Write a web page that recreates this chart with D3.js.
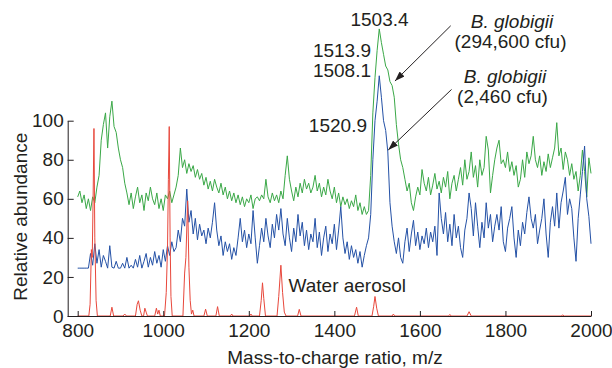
<!DOCTYPE html>
<html><head><meta charset="utf-8">
<script src="https://cdn.jsdelivr.net/npm/d3@7"></script>
<style>
body{margin:0;background:#fff}
svg{display:block}
text{font-family:"Liberation Sans",Arial,Helvetica,sans-serif;fill:#231f20}
</style>
</head><body>
<svg id="c" width="612" height="368"></svg>
<script>
// ---------- data ----------
const mzStart = 800, mzStep = 5;   // spectra sampled every 5 m/z from 800 to 2000

// B. globigii (294,600 cfu) – green trace
const greenVals = [
 61,64,58,62,55,60,54,61,58,66,72,90,98,104,86,102,110,97,94,86,
 80,76,68,63,57,63,55,61,66,58,62,54,63,59,66,60,57,63,55,60,
 54,62,60,64,58,62,66,72,86,76,80,73,78,74,77,71,75,70,73,67,
 71,65,69,64,70,66,63,68,62,66,60,64,59,63,58,62,57,61,56,60,
 58,62,55,60,61,59,62,60,70,61,58,63,59,62,58,64,60,72,82,70,
 64,59,66,61,68,63,70,65,68,63,66,72,64,68,61,66,62,70,64,60,
 66,58,63,56,61,57,60,55,59,56,62,54,58,52,56,52,54,72,104,122,
 136,147,140,134,128,126,120,118,112,98,88,80,76,70,64,68,58,54,61,66,
 62,75,68,64,71,62,67,73,65,69,63,71,66,74,60,68,72,64,70,76,
 67,80,70,74,84,71,77,66,80,72,76,92,85,63,72,80,86,90,78,80,
 76,84,74,79,72,77,66,70,80,71,84,78,82,92,80,76,82,72,79,74,
 83,76,81,86,99,82,86,75,84,80,72,78,70,74,64,72,85,74,61,81,
 73
];

// B. globigii (2,460 cfu) – blue trace
const blueVals = [
 24.5,24.5,24.5,24.5,24.5,24.5,32,26,37,27,34,25,31,28,24.5,36,25,24.5,28,24.5,
 24.5,27,24.5,30,24.5,26,24.5,29,25,31,24.5,28,32,25,30,26,33,27,31,25,
 34,28,36,31,38,33,35,44,38,50,46,65,48,54,42,50,39,47,41,44,
 37,45,40,48,58,44,36,41,31,38,33,37,29,35,31,40,50,38,44,35,
 42,37,54,40,27,36,45,38,50,41,35,47,40,52,44,55,42,36,50,40,
 33,45,38,52,41,48,36,44,34,42,38,50,35,43,31,40,46,33,42,37,
 47,34,44,56,40,32,38,29,36,30,34,27,33,25,31,36,40,52,80,100,
 110,123,112,100,95,84,58,46,38,32,40,30,27,38,45,33,42,49,36,43,
 34,41,37,45,35,43,38,46,31,63,50,42,53,38,47,36,52,40,46,35,
 30,44,50,63,55,41,58,46,35,48,40,58,45,52,38,46,52,44,56,38,
 33,45,50,56,40,30,44,36,48,42,53,61,50,45,52,37,44,50,60,42,
 30,48,56,46,63,45,58,64,71,52,60,55,40,28,50,62,74,87,60,51,
 37
];

// Water aerosol – red trace (peak list)
const redMz = [800,826,829,832,834,836,838,840,843,846,876,880,884,906,910,914,935,939,942,946,950,954,957,960,963,
 980,984,987,990,993,1003,1007,1010,1012,1014,1016,1018,1021,1046,1050,1053,1057,1060,1063,1066,1069,1072,
 1095,1099,1103,1123,1127,1131,1157,1160,1163,1202,1205,1208,1225,1229,1232,1235,1239,1266,1270,1275,1279,1283,1287,
 1314,1318,1322,1447,1452,1456,1488,1492,1495,1499,1503,1535,1538,1541,1667,1670,1673,1710,1715,1720,1930,1934,1938,2000];
const redVals = [0,0,6,34,30,60,96,40,8,0,0,4.5,0,0,1,0,0,6,7.8,3,0,0,4,2,0,
 0,4,1,3,0,0,12,35,70,97,40,10,0,0,22,30,59,25,8,1,3,0,
 0,3.5,0,0,4.8,0,0,1,0,0,1,0,0,8,17,9,0,0,10,26,12,2,0,
 0,3.4,0,0,4.5,0,0,5,10,4,0,0,1,0,0,0.8,0,0,2.2,0,0,0.5,0,0];

const xTicks = [800,1000,1200,1400,1600,1800,2000];
const yTicks = [0,20,40,60,80,100];
const xTitle = "Mass-to-charge ratio, m/z";
const yTitle = "Relative abundance";

// annotations (data coordinates)
const peakLabels = [
 {t:"1503.4", mz:1505.6, v:148.5, a:"middle"},
 {t:"1513.9", mz:1485.7, v:132.8, a:"end"},
 {t:"1508.1", mz:1485.7, v:122.2, a:"end"},
 {t:"1520.9", mz:1476.3, v:94.4, a:"end"}
];
const sampleLabels = [
 {t:"B. globigii", mz:1815.3, v:147.6, it:true},
 {t:"(294,600 cfu)", mz:1811.8, v:137.2, it:false},
 {t:"B. globigii", mz:1799, v:119.1, it:true},
 {t:"(2,460 cfu)", mz:1793.1, v:108.9, it:false}
];
const arrows = [
 {fromMz:1672, fromV:148.6, toMz:1541.7, toV:120.3},
 {fromMz:1674, fromV:116.0, toMz:1526.0, toV:85.0}
];
const waterLabel = {t:"Water aerosol", mz:1292.8, v:12.3};

// ---------- layout ----------
const W = 612, H = 368;
const axisX = 67.7;
const fs = 19;
const svg = d3.select("#c");
const x = d3.scaleLinear().domain([800,2000]).range([77.7,591]);
const y = d3.scaleLinear().domain([0,100]).range([316,120.7]);
const ink = "#231f20";

// marker
svg.append("defs").append("marker")
  .attr("id","ah").attr("markerUnits","userSpaceOnUse")
  .attr("viewBox","0 0 10 7").attr("refX",10).attr("refY",3.5)
  .attr("markerWidth",10).attr("markerHeight",7).attr("orient","auto")
  .append("path").attr("d","M0,0L10,3.5L0,7z").attr("fill",ink);

// spectra
const line = d3.line().x((d,i)=>x(mzStart+i*mzStep)).y(d=>y(d));
svg.append("path").datum(greenVals).attr("d",line)
  .attr("fill","none").attr("stroke","#3aa847").attr("stroke-width",1).attr("stroke-linejoin","round");
svg.append("path").datum(blueVals).attr("d",line)
  .attr("fill","none").attr("stroke","#2451a6").attr("stroke-width",1).attr("stroke-linejoin","round");
const redLine = d3.line().x(d=>x(d[0])).y(d=>y(d[1]));
svg.append("path").datum(redMz.map((m,i)=>[m,redVals[i]])).attr("d",redLine)
  .attr("fill","none").attr("stroke","#e8473b").attr("stroke-width",1).attr("stroke-linejoin","round");

// axes
const gy = svg.append("g").attr("transform",`translate(${axisX},0)`)
  .call(d3.axisLeft(y).tickValues(yTicks).tickSizeInner(-6).tickSizeOuter(0).tickPadding(4));
const gx = svg.append("g").attr("transform",`translate(0,${y(0)})`)
  .call(d3.axisBottom(x).tickValues(xTicks).tickFormat(d3.format("d")).tickSizeInner(-5).tickSizeOuter(0).tickPadding(8));
gx.select(".domain").remove();
svg.append("line").attr("x1",axisX).attr("x2",x(2000)+0.5).attr("y1",y(0)+0.5).attr("y2",y(0)+0.5)
  .attr("stroke",ink).attr("stroke-width",1);
[gx,gy].forEach(g=>{
  g.selectAll("path,line").attr("stroke",ink);
  g.selectAll("text").attr("font-size",fs).attr("fill",ink)
   .attr("font-family",'"Liberation Sans",Arial,sans-serif');
});

// titles
svg.append("text").attr("x",335).attr("y",364).attr("text-anchor","middle")
  .attr("font-size",fs).text(xTitle);
svg.append("text").attr("transform","translate(26.7,216.7) rotate(-90)")
  .attr("text-anchor","middle").attr("font-size",fs).text(yTitle);

// annotations
peakLabels.forEach(p=>{
  svg.append("text").attr("x",x(p.mz)).attr("y",y(p.v)).attr("text-anchor",p.a)
    .attr("font-size",fs).text(p.t);
});
sampleLabels.forEach(p=>{
  svg.append("text").attr("x",x(p.mz)).attr("y",y(p.v)).attr("text-anchor","middle")
    .attr("font-size",fs).attr("font-style",p.it?"italic":"normal").text(p.t);
});
arrows.forEach(a=>{
  svg.append("line").attr("x1",x(a.fromMz)).attr("y1",y(a.fromV))
    .attr("x2",x(a.toMz)).attr("y2",y(a.toV))
    .attr("stroke",ink).attr("stroke-width",1).attr("marker-end","url(#ah)");
});
svg.append("text").attr("x",x(waterLabel.mz)).attr("y",y(waterLabel.v))
  .attr("font-size",fs).text(waterLabel.t);
</script>
</body></html>
